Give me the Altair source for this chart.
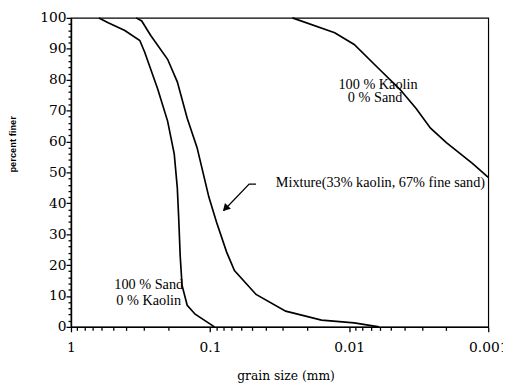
import altair as alt
import pandas as pd

# --- data ---
sand_size = [0.63, 0.54, 0.41, 0.32, 0.295, 0.238, 0.202, 0.181, 0.172, 0.168, 0.164, 0.159, 0.146, 0.128, 0.093]
sand_finer = [100, 98.4, 95.9, 92.7, 88.9, 77, 66.6, 56, 45, 35, 23, 13.4, 7, 4.1, 0]

mix_size = [0.34, 0.31, 0.267, 0.202, 0.172, 0.146, 0.124, 0.102, 0.0897, 0.076, 0.0668, 0.0467, 0.0286, 0.0158, 0.0092, 0.0061]
mix_finer = [100, 99, 94.3, 86.6, 79.3, 67.5, 58, 42, 33.8, 24.2, 18.2, 10.5, 5.1, 2.2, 1.3, 0]

kaolin_size = [0.0256, 0.0127, 0.0092, 0.0063, 0.0043, 0.0033, 0.0026, 0.002, 0.0013, 0.001]
kaolin_finer = [100, 95.2, 91.4, 84.1, 76.8, 70.7, 64.3, 59.6, 52.9, 48.4]

ann_text = ["100 % Kaolin", "0 % Sand", "100 % Sand", "0 % Kaolin", "Mixture(33% kaolin, 67% fine sand)"]
ann_size = [0.0062, 0.0065, 0.276, 0.276, 0.0337]
ann_finer = [78.3, 73.9, 13.4, 8.3, 46.5]
ann_align = ["center", "center", "center", "center", "left"]

arrow_size = [0.0467, 0.0524, 0.080]
arrow_finer = [46.2, 46.2, 37.6]
arrowhead_size = [0.0765]
arrowhead_finer = [38.6]

x_major = [1, 0.1, 0.01, 0.001]
x_minor = sorted({round(m * 10.0 ** e, 6) for e in (-3, -2, -1) for m in range(2, 10)})
y_major = list(range(0, 101, 10))
y_minor = [v for v in range(0, 101, 2) if v % 10 != 0]

rows = []
for name, xs, ys in [("sand", sand_size, sand_finer), ("mix", mix_size, mix_finer), ("kaolin", kaolin_size, kaolin_finer)]:
    for i, (x, y) in enumerate(zip(xs, ys)):
        rows.append({"series": name, "order": i, "size": x, "finer": y})
curves = pd.DataFrame(rows)
ann = pd.DataFrame({"text": ann_text, "size": ann_size, "finer": ann_finer, "align": ann_align})
arrow = pd.DataFrame({"order": list(range(len(arrow_size))), "size": arrow_size, "finer": arrow_finer})
head = pd.DataFrame({"size": arrowhead_size, "finer": arrowhead_finer})

xscale = alt.Scale(type="log", domain=[0.001, 1], reverse=True, nice=False)
yscale = alt.Scale(domain=[0, 100], nice=False)

common = dict(grid=False, domainColor="black", tickColor="black", labelColor="black",
              titleColor="black", labelOverlap=False, ticks=True, tickWidth=1.3, tickOpacity=1)

xaxis_major = alt.Axis(
    orient="bottom",
    values=x_major,
    format="~g",
    title="grain size (mm)",
    tickSize=5,
    labelFlush=False,
    labelFont="DejaVu Serif",
    labelFontSize=14,
    labelPadding=9,
    titleFont="DejaVu Serif",
    titleFontSize=12.5,
    titleFontWeight="normal",
    titlePadding=15,
    titleX=218,
    **common,
)
xaxis_minor = alt.Axis(
    orient="bottom", values=x_minor, tickSize=3.5, labels=False, title=None, domain=False, **common
)
yaxis_major = alt.Axis(
    orient="left",
    values=y_major,
    title="percent finer",
    tickSize=5,
    labelFont="DejaVu Serif",
    labelFontSize=14,
    labelPadding=0,
    titleFont="Liberation Sans",
    titleFontSize=9.5,
    titleFontWeight="bold",
    titleX=-54,
    titleY=128,
    **common,
)
yaxis_minor = alt.Axis(
    orient="left", values=y_minor, tickSize=3, labels=False, title=None, domain=False, **common
)

lines = alt.Chart(curves).mark_line(color="black", strokeWidth=1.7).encode(
    x=alt.X("size:Q", scale=xscale, axis=xaxis_major),
    y=alt.Y("finer:Q", scale=yscale, axis=yaxis_major),
    detail="series:N",
    order="order:Q",
)

arrow_line = alt.Chart(arrow).mark_line(color="black", strokeWidth=1.3).encode(
    x=alt.X("size:Q", scale=xscale, axis=xaxis_minor),
    y=alt.Y("finer:Q", scale=yscale, axis=yaxis_minor),
    order="order:Q",
)

text_center = alt.Chart(ann[ann["align"] == "center"]).mark_text(
    font="Liberation Serif", fontSize=14.5, color="black", baseline="middle", align="center"
).encode(
    x=alt.X("size:Q", scale=xscale, axis=None),
    y=alt.Y("finer:Q", scale=yscale, axis=None),
    text="text:N",
)

text_left = alt.Chart(ann[ann["align"] == "left"]).mark_text(
    font="Liberation Serif", fontSize=14.5, color="black", baseline="middle", align="left"
).encode(
    x=alt.X("size:Q", scale=xscale, axis=None),
    y=alt.Y("finer:Q", scale=yscale, axis=None),
    text="text:N",
)

arrow_head = alt.Chart(head).mark_point(
    shape="triangle", filled=True, color="black", size=70, angle=224, opacity=1
).encode(
    x=alt.X("size:Q", scale=xscale, axis=None),
    y=alt.Y("finer:Q", scale=yscale, axis=None),
)

chart = alt.layer(lines, arrow_line, text_center, text_left, arrow_head).resolve_axis(
    x="independent", y="independent"
).properties(
    width=424,
    height=314,
    autosize=alt.AutoSizeParams(type="none"),
    padding={"left": 64, "top": 7, "right": 15, "bottom": 56},
    background="white",
).configure_view(stroke="black", strokeWidth=1.2).configure_axis(domainWidth=1.5, ticks=True)

chart.save("out.html", embed_options={"renderer": "svg", "actions": False})
